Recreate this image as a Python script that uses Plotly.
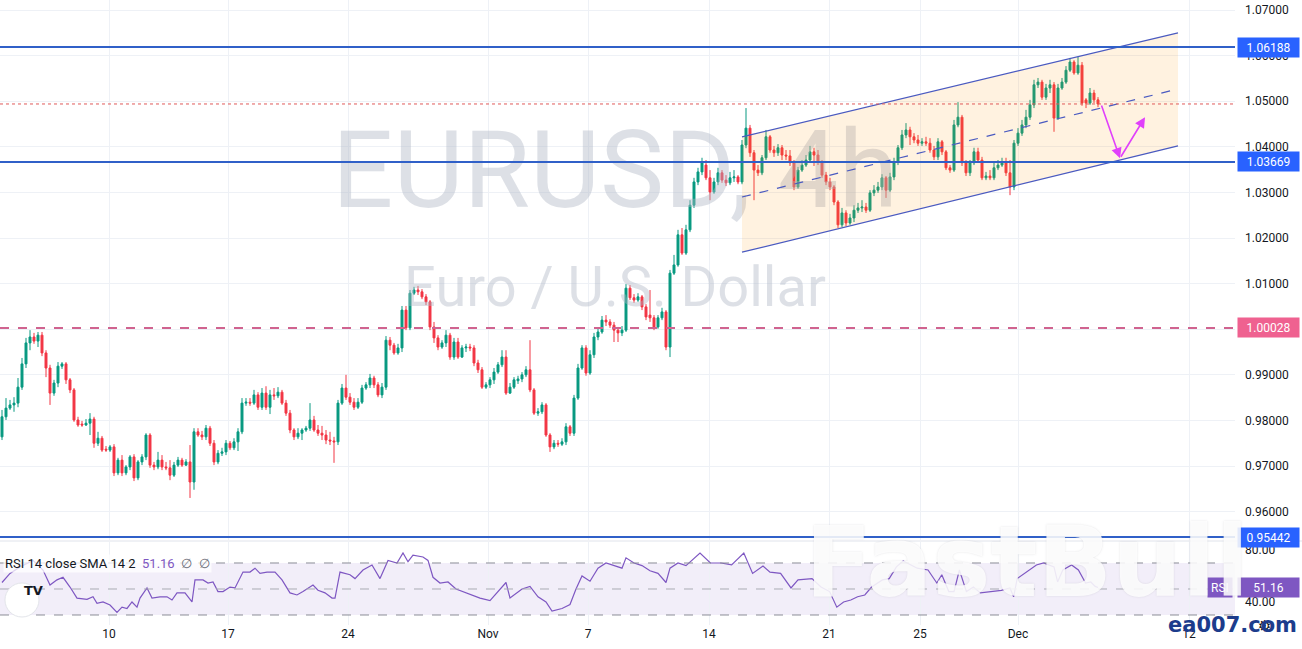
import plotly.graph_objects as go

# ---------------- data ----------------
opens = [0.9764,0.9808,0.9827,0.9834,0.9838,0.9873,0.9924,0.9970,0.9983,0.9974,
0.9987,0.9948,0.9915,0.9860,0.9882,0.9919,0.9924,0.9889,0.9867,0.9801,
0.9792,0.9790,0.9794,0.9803,0.9750,0.9761,0.9737,0.9735,0.9742,0.9685,
0.9713,0.9685,0.9698,0.9720,0.9674,0.9709,0.9720,0.9768,0.9702,0.9698,
0.9713,0.9698,0.9696,0.9680,0.9702,0.9713,0.9702,0.9709,0.9665,0.9775,
0.9768,0.9764,0.9783,0.9750,0.9709,0.9728,0.9731,0.9750,0.9740,0.9753,
0.9775,0.9838,0.9840,0.9838,0.9856,0.9829,0.9860,0.9829,0.9856,0.9854,
0.9862,0.9838,0.9816,0.9779,0.9764,0.9772,0.9779,0.9783,0.9801,0.9779,
0.9772,0.9768,0.9757,0.9755,0.9753,0.9838,0.9871,0.9851,0.9840,0.9829,
0.9840,0.9871,0.9878,0.9893,0.9878,0.9856,0.9873,0.9976,0.9965,0.9948,
0.9959,1.0042,1.0003,1.0079,1.0086,1.0082,1.0071,1.0060,1.0005,0.9981,
0.9961,0.9970,0.9987,0.9939,0.9972,0.9939,0.9959,0.9961,0.9959,0.9926,
0.9911,0.9873,0.9878,0.9889,0.9906,0.9922,0.9939,0.9860,0.9873,0.9887,
0.9891,0.9900,0.9911,0.9867,0.9816,0.9819,0.9834,0.9768,0.9742,0.9750,
0.9748,0.9753,0.9786,0.9772,0.9849,0.9915,0.9959,0.9904,0.9944,0.9983,
0.9994,1.0020,1.0016,1.0009,0.9998,0.9992,0.9998,1.0090,1.0069,1.0064,
1.0071,1.0049,1.0031,1.0025,1.0005,1.0025,1.0038,0.9961,1.0123,1.0141,
1.0207,1.0167,1.0218,1.0272,1.0323,1.0345,1.0360,1.0332,1.0301,1.0323,
1.0343,1.0327,1.0321,1.0332,1.0334,1.0323,1.0404,1.0441,1.0387,1.0349,
1.0343,1.0376,1.0422,1.0393,1.0387,1.0398,1.0382,1.0380,1.0365,1.0312,
1.0349,1.0360,1.0371,1.0389,1.0382,1.0367,1.0338,1.0323,1.0312,1.0279,
1.0229,1.0255,1.0233,1.0244,1.0261,1.0266,1.0268,1.0261,1.0299,1.0305,
1.0312,1.0332,1.0305,1.0334,1.0367,1.0398,1.0426,1.0437,1.0422,1.0415,
1.0408,1.0411,1.0408,1.0393,1.0378,1.0411,1.0389,1.0354,1.0349,1.0448,
1.0465,1.0365,1.0343,1.0365,1.0389,1.0371,1.0332,1.0336,1.0332,1.0354,
1.0360,1.0367,1.0343,1.0312,1.0408,1.0430,1.0448,1.0465,1.0492,1.0536,
1.0542,1.0509,1.0529,1.0536,1.0463,1.0529,1.0542,1.0568,1.0586,1.0562,
1.0579,1.0503,1.0496,1.0518,1.0503]

closes = [0.9808,0.9827,0.9834,0.9838,0.9873,0.9924,0.9970,0.9983,0.9974,0.9987,
0.9948,0.9915,0.9860,0.9882,0.9919,0.9924,0.9889,0.9867,0.9801,0.9790,
0.9790,0.9794,0.9803,0.9750,0.9761,0.9735,0.9735,0.9742,0.9685,0.9713,
0.9685,0.9698,0.9720,0.9674,0.9709,0.9720,0.9768,0.9702,0.9698,0.9713,
0.9698,0.9696,0.9680,0.9702,0.9713,0.9702,0.9709,0.9665,0.9775,0.9768,
0.9764,0.9783,0.9750,0.9709,0.9728,0.9731,0.9750,0.9740,0.9753,0.9775,
0.9838,0.9840,0.9838,0.9856,0.9829,0.9860,0.9829,0.9856,0.9854,0.9862,
0.9838,0.9816,0.9779,0.9764,0.9772,0.9779,0.9783,0.9801,0.9779,0.9772,
0.9768,0.9757,0.9755,0.9753,0.9838,0.9871,0.9851,0.9840,0.9829,0.9840,
0.9871,0.9878,0.9893,0.9878,0.9856,0.9873,0.9976,0.9965,0.9948,0.9959,
1.0042,1.0003,1.0079,1.0086,1.0082,1.0071,1.0060,1.0005,0.9981,0.9961,
0.9970,0.9987,0.9939,0.9972,0.9939,0.9959,0.9961,0.9959,0.9926,0.9911,
0.9873,0.9878,0.9889,0.9906,0.9922,0.9939,0.9860,0.9873,0.9889,0.9891,
0.9900,0.9911,0.9867,0.9816,0.9819,0.9834,0.9768,0.9742,0.9750,0.9748,
0.9753,0.9786,0.9772,0.9849,0.9915,0.9959,0.9904,0.9944,0.9983,0.9994,
1.0020,1.0016,1.0009,0.9998,0.9992,0.9998,1.0090,1.0069,1.0064,1.0071,
1.0049,1.0027,1.0025,1.0005,1.0025,1.0038,0.9961,1.0123,1.0141,1.0207,
1.0167,1.0218,1.0272,1.0323,1.0345,1.0365,1.0332,1.0301,1.0323,1.0343,
1.0327,1.0321,1.0332,1.0334,1.0323,1.0404,1.0441,1.0387,1.0349,1.0343,
1.0376,1.0422,1.0393,1.0387,1.0398,1.0382,1.0380,1.0365,1.0312,1.0349,
1.0360,1.0371,1.0389,1.0382,1.0367,1.0338,1.0323,1.0312,1.0279,1.0229,
1.0255,1.0233,1.0244,1.0261,1.0266,1.0268,1.0261,1.0299,1.0305,1.0312,
1.0332,1.0305,1.0334,1.0367,1.0398,1.0426,1.0437,1.0422,1.0415,1.0408,
1.0411,1.0408,1.0393,1.0378,1.0411,1.0389,1.0354,1.0349,1.0448,1.0465,
1.0365,1.0343,1.0365,1.0389,1.0371,1.0332,1.0336,1.0332,1.0354,1.0360,
1.0367,1.0343,1.0312,1.0408,1.0430,1.0448,1.0465,1.0492,1.0536,1.0542,
1.0509,1.0529,1.0536,1.0463,1.0529,1.0542,1.0568,1.0586,1.0562,1.0579,
1.0496,1.0496,1.0518,1.0503,1.0494]

highs = [0.9823,0.9849,0.9845,0.9851,0.9893,0.9937,0.9981,0.9998,0.9992,0.9994,
0.9994,0.9954,0.9922,0.9889,0.9928,0.9928,0.9928,0.9893,0.9871,0.9808,
0.9799,0.9803,0.9816,0.9808,0.9775,0.9766,0.9744,0.9746,0.9748,0.9718,
0.9724,0.9702,0.9724,0.9726,0.9713,0.9726,0.9772,0.9772,0.9709,0.9731,
0.9724,0.9709,0.9713,0.9709,0.9720,0.9718,0.9715,0.9746,0.9783,0.9783,
0.9777,0.9790,0.9788,0.9757,0.9735,0.9740,0.9757,0.9755,0.9761,0.9783,
0.9849,0.9849,0.9849,0.9867,0.9862,0.9871,0.9875,0.9867,0.9871,0.9873,
0.9867,0.9845,0.9823,0.9783,0.9783,0.9783,0.9788,0.9838,0.9810,0.9790,
0.9788,0.9779,0.9775,0.9764,0.9845,0.9880,0.9900,0.9860,0.9849,0.9849,
0.9878,0.9884,0.9902,0.9898,0.9884,0.9882,0.9985,0.9983,0.9970,0.9968,
1.0051,1.0051,1.0086,1.0093,1.0095,1.0088,1.0077,1.0064,1.0016,0.9987,
0.9976,0.9998,0.9992,0.9981,0.9981,0.9965,0.9968,0.9968,0.9965,0.9933,
0.9917,0.9884,0.9895,0.9915,0.9928,0.9954,0.9954,0.9882,0.9895,0.9898,
0.9906,0.9919,0.9976,0.9871,0.9827,0.9840,0.9838,0.9772,0.9757,0.9757,
0.9761,0.9794,0.9790,0.9856,0.9924,0.9965,0.9965,0.9954,0.9992,1.0003,
1.0029,1.0031,1.0022,1.0016,1.0005,1.0007,1.0099,1.0097,1.0077,1.0079,
1.0075,1.0055,1.0086,1.0031,1.0031,1.0047,1.0042,1.0130,1.0163,1.0218,
1.0222,1.0229,1.0283,1.0332,1.0354,1.0376,1.0371,1.0349,1.0332,1.0354,
1.0349,1.0338,1.0345,1.0349,1.0338,1.0415,1.0485,1.0448,1.0393,1.0360,
1.0382,1.0437,1.0426,1.0402,1.0406,1.0404,1.0393,1.0393,1.0371,1.0356,
1.0371,1.0382,1.0402,1.0398,1.0393,1.0371,1.0345,1.0332,1.0316,1.0283,
1.0266,1.0261,1.0253,1.0272,1.0277,1.0283,1.0277,1.0305,1.0316,1.0323,
1.0340,1.0336,1.0343,1.0376,1.0404,1.0437,1.0452,1.0444,1.0430,1.0426,
1.0419,1.0422,1.0419,1.0402,1.0419,1.0415,1.0393,1.0360,1.0459,1.0498,
1.0470,1.0371,1.0371,1.0398,1.0398,1.0378,1.0345,1.0349,1.0365,1.0371,
1.0376,1.0376,1.0371,1.0415,1.0441,1.0459,1.0481,1.0503,1.0547,1.0551,
1.0547,1.0538,1.0547,1.0542,1.0538,1.0551,1.0577,1.0595,1.0590,1.0597,
1.0586,1.0507,1.0529,1.0525,1.0509]

lows = [0.9757,0.9801,0.9823,0.9819,0.9829,0.9867,0.9915,0.9954,0.9968,0.9961,
0.9941,0.9895,0.9834,0.9854,0.9873,0.9913,0.9880,0.9860,0.9797,0.9786,
0.9786,0.9788,0.9768,0.9740,0.9744,0.9731,0.9731,0.9731,0.9678,0.9680,
0.9678,0.9680,0.9691,0.9667,0.9669,0.9702,0.9713,0.9696,0.9691,0.9693,
0.9691,0.9691,0.9669,0.9676,0.9698,0.9698,0.9700,0.9630,0.9648,0.9764,
0.9757,0.9757,0.9744,0.9702,0.9704,0.9722,0.9724,0.9735,0.9735,0.9733,
0.9770,0.9832,0.9832,0.9834,0.9823,0.9823,0.9823,0.9814,0.9845,0.9849,
0.9834,0.9810,0.9772,0.9757,0.9759,0.9757,0.9775,0.9777,0.9775,0.9766,
0.9757,0.9748,0.9746,0.9707,0.9746,0.9834,0.9845,0.9834,0.9823,0.9825,
0.9836,0.9867,0.9871,0.9871,0.9851,0.9849,0.9867,0.9954,0.9944,0.9944,
0.9950,0.9998,0.9998,1.0075,1.0075,1.0066,1.0053,0.9998,0.9970,0.9954,
0.9957,0.9961,0.9933,0.9933,0.9935,0.9937,0.9950,0.9952,0.9919,0.9904,
0.9869,0.9869,0.9871,0.9880,0.9902,0.9917,0.9856,0.9858,0.9869,0.9880,
0.9884,0.9895,0.9862,0.9812,0.9810,0.9814,0.9764,0.9731,0.9737,0.9742,
0.9744,0.9746,0.9766,0.9766,0.9845,0.9911,0.9898,0.9900,0.9937,0.9976,
0.9990,1.0007,1.0003,0.9972,0.9972,0.9985,0.9994,1.0064,1.0058,1.0060,
1.0042,1.0020,1.0016,0.9998,1.0001,1.0020,0.9954,0.9939,1.0119,1.0137,
1.0163,1.0163,1.0213,1.0266,1.0316,1.0338,1.0327,1.0283,1.0297,1.0316,
1.0321,1.0314,1.0316,1.0323,1.0318,1.0318,1.0397,1.0378,1.0283,1.0336,
1.0338,1.0371,1.0387,1.0378,1.0380,1.0371,1.0371,1.0358,1.0305,1.0308,
1.0345,1.0356,1.0367,1.0358,1.0360,1.0332,1.0316,1.0305,1.0272,1.0222,
1.0224,1.0226,1.0229,1.0235,1.0255,1.0257,1.0255,1.0257,1.0292,1.0299,
1.0305,1.0288,1.0301,1.0327,1.0360,1.0393,1.0419,1.0404,1.0408,1.0402,
1.0402,1.0402,1.0387,1.0371,1.0371,1.0382,1.0349,1.0343,1.0345,1.0443,
1.0358,1.0336,1.0336,1.0360,1.0365,1.0327,1.0327,1.0327,1.0327,1.0349,
1.0356,1.0336,1.0294,1.0305,1.0402,1.0424,1.0441,1.0459,1.0485,1.0529,
1.0503,1.0503,1.0518,1.0433,1.0459,1.0525,1.0538,1.0564,1.0558,1.0558,
1.0490,1.0485,1.0492,1.0496,1.0487]

# RSI(14) read at sample bars
rsi_bar = [0,2,4.5,7.75,10.25,12,13.75,15.25,17,18.75,
21.25,22.75,23.75,25.25,27,28.75,30,31.25,32.5,33.75,
34.5,36.25,37.5,39.5,41.25,42.5,43.75,45.75,47.5,48.25,
50.25,51.5,52.75,54,55.25,57,58.25,60.25,62,63.25,
64.5,66.25,68.25,70,72,73.75,75.25,77.75,79,80.75,
82.5,83.25,84.5,87,88.25,90.25,92.5,94.5,96.5,98.75,
100.25,101.5,102.75,105.25,106.5,107.75,109.5,111.5,
113.5,116,119.5,122,124.5,126,127,130,132,134,
136,137.5,140,142,143.5,145,147,149,151,153,
155,156,158,160,162,164,166,167,169,171,173,
174.5,177.1,179.75,182.4,185.45,187.65,190.25,192,194.65,197.25,
199,202.5,204.75,206.9,208.7,210.4,212.2,213.9,215.7,217.4,
220.1,221.8,223.6,225.3,227.1,228.8,231.5,233.7,234.95,236.7,
238,239.35,241.1,242.85,244.6,247.25,249.85,252,252.9,253.8,
256,258.6,260.4,262.1,263,263.9,265.2,267.4,269.1,270.9,
272.2,273.3,274]
rsi_val = [55,62,67,72,64.6,53,57,59,51.5,43,
42,44,39,40,37.7,32,36,35,40,36,
43,50.8,43,44,44,41.5,47,47,40,57,
57,54.6,55.4,48,48,51.5,50.8,63,63,66,
62,63,63,57,47,45.4,48,53,49,47,
43,43,63,61,58,64.6,68.5,58,72,70,
77.7,71,76,74.6,72,59,54.6,55.4,
50,47,43,41,50,55,43,50,52,44,
40,33,35,38,50,60,56,66,70,68,
66,74,70,68,64,62,55,66,70,68,74,
77.7,70,70,68.5,77.7,62,67.7,63,62,50.8,
57,58,51.5,48,36,40,41.5,44,45.4,51.5,
57,58,67,71.5,68.5,66,64.6,54.6,61,48,
48,64.6,48,51.5,47,48,49,50.8,44,58,
63,68.5,70,67.7,67,55.4,64.6,68.5,64.6,54.6,
55.4,52,51.16]

tick_pos = [26.75, 56.5, 86.5, 121.5, 146.5, 176.75, 206.75, 229.5, 254, 296.75]
tick_text = ["10", "17", "24", "Nov", "7", "14", "21", "25", "Dec", "12"]
price_ticks = [0.96, 0.97, 0.98, 0.99, 1.00, 1.01, 1.02, 1.03, 1.04, 1.05, 1.06, 1.07]
rsi_ticks = [40, 80]
rsi_levels = [70, 50, 30]

level_blue = [1.06188, 1.03669, 0.95442]
level_pink = 1.00028

chan_x = [185, 294]
chan_upper = [1.0422, 1.0650]
chan_mid = [1.0290, 1.0527]
chan_lower = [1.0169, 1.0402]

arrow_x = [274.75, 279.5, 285.75]
arrow_y = [1.0494, 1.0375, 1.0465]

rsi_last = 51.16

# ---------------- styling ----------------
UP = "#089981"
DOWN = "#f23645"
GRID = "#eef1f6"
BLUE_LINE = "#3060c8"
BLUE_BOX = "#2962ff"
PINK_LINE = "#d0638f"
PINK_BOX = "#ef6190"
PURPLE = "#7e57c2"
CHAN = "#4a5ac0"
FONT = "Roboto"

bars = list(range(len(closes)))

fig = go.Figure()

# watermark (below candles)
fig.add_trace(go.Scatter(x=[153.25], y=[1.0327], mode="text", text=["EURUSD, 4h"],
                         textfont=dict(family=FONT, size=108, color="rgba(175,180,196,0.42)"),
                         hoverinfo="skip", showlegend=False, cliponaxis=False))
fig.add_trace(go.Scatter(x=[153.25], y=[1.0082], mode="text", text=["Euro / U.S. Dollar"],
                         textfont=dict(family=FONT, size=56, color="rgba(175,180,196,0.42)"),
                         hoverinfo="skip", showlegend=False, cliponaxis=False))

# channel background
fig.add_trace(go.Scatter(x=[chan_x[0], chan_x[1], chan_x[1], chan_x[0], chan_x[0]],
                         y=[chan_upper[0], chan_upper[1], chan_lower[1], chan_lower[0], chan_upper[0]],
                         fill="toself", fillcolor="rgba(255,152,0,0.12)", mode="lines",
                         line=dict(width=0), hoverinfo="skip", showlegend=False))

fig.add_trace(go.Candlestick(x=bars, open=opens, high=highs, low=lows, close=closes,
                             increasing=dict(line=dict(color=UP, width=1), fillcolor=UP),
                             decreasing=dict(line=dict(color=DOWN, width=1), fillcolor=DOWN),
                             whiskerwidth=0, showlegend=False, hoverinfo="skip"))

for ys, dash in [(chan_upper, "solid"), (chan_mid, "dash"), (chan_lower, "solid")]:
    fig.add_trace(go.Scatter(x=chan_x, y=ys, mode="lines",
                             line=dict(color=CHAN, width=1.2, dash=dash),
                             hoverinfo="skip", showlegend=False))

fig.add_trace(go.Scatter(x=rsi_bar, y=rsi_val, mode="lines", xaxis="x2", yaxis="y2",
                         line=dict(color=PURPLE, width=1.2), hoverinfo="skip", showlegend=False))

shapes = []
for lv in level_blue:
    shapes.append(dict(type="line", xref="paper", x0=0, x1=1, yref="y", y0=lv, y1=lv,
                       line=dict(color=BLUE_LINE, width=2)))
shapes.append(dict(type="line", xref="paper", x0=0, x1=1, yref="y", y0=level_pink, y1=level_pink,
                   line=dict(color=PINK_LINE, width=2, dash="dash")))
shapes.append(dict(type="line", xref="paper", x0=0, x1=1, yref="y", y0=closes[-1], y1=closes[-1],
                   line=dict(color="#e05a5a", width=1, dash="dot")))
shapes.append(dict(type="rect", xref="paper", x0=0, x1=1, yref="y2", y0=rsi_levels[2], y1=rsi_levels[0],
                   fillcolor="rgba(126,87,194,0.10)", line=dict(width=0), layer="below"))
for lv in rsi_levels:
    shapes.append(dict(type="line", xref="paper", x0=0, x1=1, yref="y2", y0=lv, y1=lv,
                       line=dict(color="#8a8d96" if lv != 50 else "#a9abb3", width=1, dash="dash")))
# pane separator
shapes.append(dict(type="line", xref="paper", x0=0, x1=1.06, yref="paper", y0=0.1344, y1=0.1344,
                   line=dict(color="#e0e3eb", width=1)))
# TradingView logo circle
shapes.append(dict(type="circle", xref="paper", yref="paper", xsizemode="pixel", ysizemode="pixel",
                   xanchor=0.0178, yanchor=0.04, x0=-17, x1=17, y0=-17, y1=17,
                   fillcolor="white", line=dict(color="#e3e5ea", width=1)))

annotations = []
def axis_box(y, yref, text, color):
    annotations.append(dict(xref="paper", x=1, xanchor="left", xshift=2, yref=yref, y=y,
                            yanchor="middle", text=text, showarrow=False, bgcolor=color,
                            font=dict(family=FONT, size=12, color="white"),
                            width=55, height=13, borderpad=3, align="center"))

for lv in level_blue:
    axis_box(lv, "y", f"{lv:.5f}", BLUE_BOX)
axis_box(level_pink, "y", f"{level_pink:.5f}", PINK_BOX)
axis_box(rsi_last, "y2", f"{rsi_last:.2f}", PURPLE)
annotations.append(dict(xref="paper", x=1, xanchor="right", xshift=-2, yref="y2", y=rsi_last,
                        yanchor="middle", text="RSI", showarrow=False, bgcolor=PURPLE,
                        font=dict(family=FONT, size=12, color="white"), height=13, borderpad=3))

# arrows
annotations.append(dict(xref="x", yref="y", axref="x", ayref="y", x=arrow_x[1], y=arrow_y[1],
                        ax=arrow_x[0], ay=arrow_y[0], text="", showarrow=True, arrowhead=2,
                        arrowsize=1.3, arrowwidth=1.6, arrowcolor="#e040fb"))
annotations.append(dict(xref="x", yref="y", axref="x", ayref="y", x=arrow_x[2], y=arrow_y[2],
                        ax=arrow_x[1], ay=arrow_y[1], text="", showarrow=True, arrowhead=2,
                        arrowsize=1.3, arrowwidth=1.6, arrowcolor="#e040fb"))

# RSI legend
annotations.append(dict(xref="paper", x=0, xanchor="left", xshift=3, yref="paper", y=0.0992,
                        yanchor="middle", showarrow=False, bgcolor="rgba(255,255,255,0.75)",
                        text=("RSI 14 close SMA 14 2  <span style='color:#7e57c2'>51.16</span>"
                              "  <span style='color:#6a6d78'>\u2205  \u2205</span>"),
                        font=dict(family=FONT, size=13, color="#131722")))
# TV logo glyph
annotations.append(dict(xref="paper", x=0.0178, yref="paper", y=0.04, showarrow=False,
                        text="<b>TV</b>", font=dict(family="DejaVu Sans", size=13, color="#131722")))
# FastBull watermark (on top)
annotations.append(dict(xref="paper", x=0.8316, yref="paper", y=0.1008, xanchor="center",
                        yanchor="middle", showarrow=False, text="<b>FastBull</b>",
                        font=dict(family="DejaVu Sans", size=98, color="rgba(255,255,255,0.85)",
                                  shadow="0px 0px 2px rgba(140,140,150,0.3)")))
# settings icon
annotations.append(dict(xref="paper", x=1.0308, yref="paper", y=-0.0192, showarrow=False,
                        text="\u2699", font=dict(family="DejaVu Sans", size=15, color="#131722")))
# site mark
annotations.append(dict(xref="paper", x=0.9976, yref="paper", y=0.0, xanchor="center",
                        yanchor="middle", showarrow=False, text="<b>ea007.com</b>",
                        font=dict(family="DejaVu Sans", size=21, color="#1c3c8c")))

fig.update_layout(
    width=1302, height=649, autosize=False,
    margin=dict(l=0, r=67, t=0, b=24),
    paper_bgcolor="white", plot_bgcolor="white", showlegend=False,
    font=dict(family=FONT, size=12, color="#131722"),
    xaxis=dict(domain=[0, 1], anchor="y", range=[-0.5, 308.25], tickvals=tick_pos,
               showticklabels=False, showgrid=True, gridcolor=GRID, zeroline=False,
               rangeslider=dict(visible=False), ticks=""),
    xaxis2=dict(domain=[0, 1], anchor="y2", matches="x", tickvals=tick_pos, ticktext=tick_text,
                showgrid=True, gridcolor=GRID, zeroline=False, ticks="",
                tickfont=dict(family=FONT, size=12, color="#131722")),
    yaxis=dict(domain=[0.136, 1], anchor="x", side="right", range=[0.95378, 1.0722],
               tickvals=price_ticks, ticktext=[f"{v:.5f}" for v in price_ticks],
               showgrid=True, gridcolor=GRID, zeroline=False, ticks="", ticklabelstandoff=9,
               tickfont=dict(family=FONT, size=12, color="#131722")),
    yaxis2=dict(domain=[0, 0.1328], anchor="x2", side="right", range=[22.3, 86.15],
                tickvals=rsi_ticks, ticktext=[f"{v:.2f}" for v in rsi_ticks],
                showgrid=False, zeroline=False, ticks="", ticklabelstandoff=9,
                tickfont=dict(family=FONT, size=12, color="#131722")),
    shapes=shapes, annotations=annotations,
)

fig.write_html("out.html", config={"displayModeBar": False, "staticPlot": True},
               post_script="document.body.style.margin='0';document.body.style.overflow='hidden';")
